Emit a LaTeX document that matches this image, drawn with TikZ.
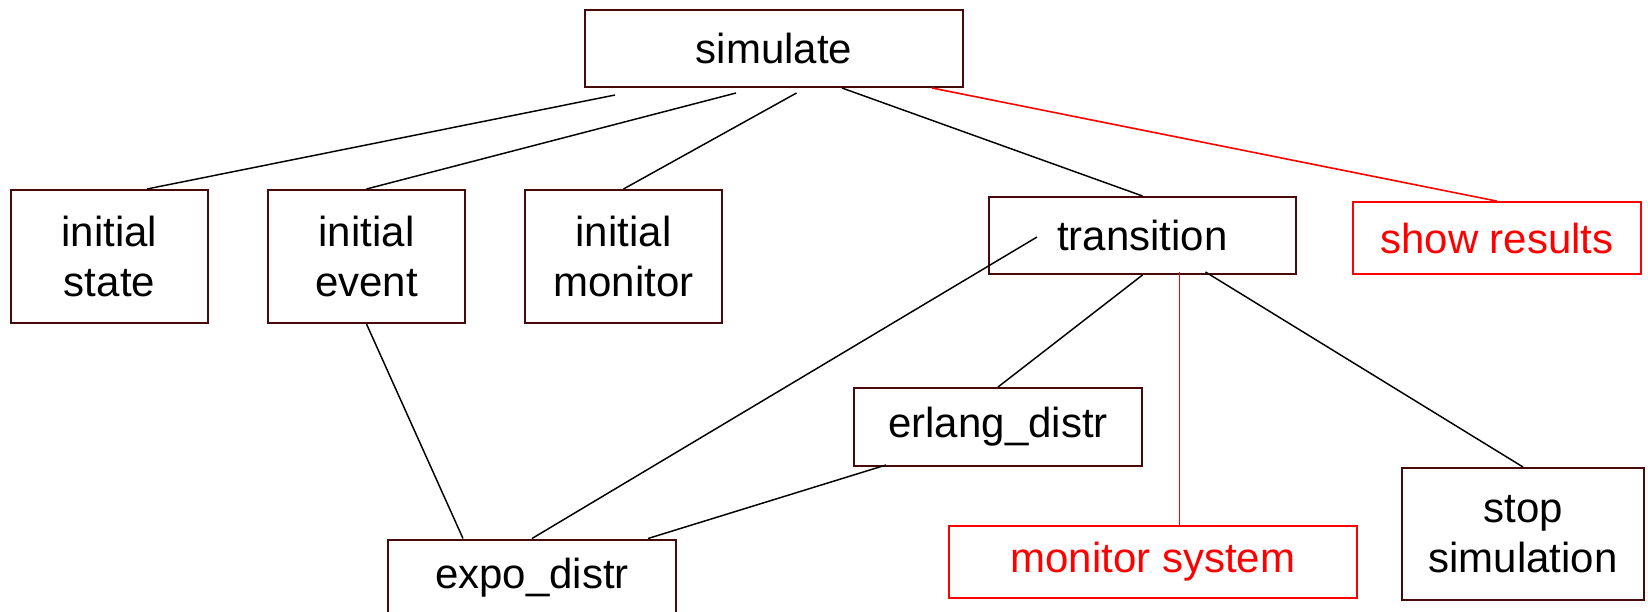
\documentclass[tikz,border=0pt]{standalone}
\usepackage{fontspec}
\setmainfont{Liberation Sans}
\usetikzlibrary{calc}
\definecolor{boxc}{RGB}{70,10,10}
\definecolor{hired}{RGB}{255,0,0}
\tikzset{
  box/.style={draw=boxc, line width=1.5pt, inner sep=0pt, align=center,
    font=\fontsize{31.5}{37.5}\selectfont, text=black},
  redbox/.style={box, draw=hired, text=hired, line width=1.3pt},
  link/.style={draw=black, line width=1.1pt},
  redlink/.style={draw=hired, line width=1.2pt}
}
\begin{document}
\begin{tikzpicture}[x=0.75pt, y=-0.75pt]
\useasboundingbox (0,0) rectangle (1648,611);
\fill[white] (0,0) rectangle (1648,611);
% nodes
\node[box, minimum width=283.5pt, minimum height=57.75pt] (sim) at (774,48.5) {simulate};
\node[box, minimum width=147.75pt, minimum height=99.75pt] (is) at (109.5,256.5) {initial\\state};
\node[box, minimum width=147.75pt, minimum height=99.75pt] (ie) at (366.5,256.5) {initial\\event};
\node[box, minimum width=147.75pt, minimum height=99.75pt] (im) at (623.5,256.5) {initial\\monitor};
\node[box, minimum width=230.25pt, minimum height=57.75pt] (tr) at (1142.5,235.5) {transition};
\node[redbox, minimum width=216pt, minimum height=54pt] (sr) at (1497,238) {show results};
\node[box, minimum width=216pt, minimum height=58.5pt] (er) at (998,427) {erlang\_distr};
\node[box, minimum width=216pt, minimum height=57.75pt] (ex) at (532,578) {expo\_distr};
\node[redbox, minimum width=306pt, minimum height=54pt] (ms) at (1153,562) {monitor system};
\node[box, minimum width=181.5pt, minimum height=99pt] (ss) at (1523,534) {stop\\simulation};
% connector end points
\coordinate (trred) at ($(tr.south)+(37,-3)$);
\coordinate (msred) at ($(ms.north)+(26.5,0)$);
% connectors from simulate
\draw[link] ($(sim.south west)+(31,7)$) -- ($(is.north west)+(137,0)$);
\draw[link] ($(sim.south west)+(152,5)$) -- (ie.north);
\draw[link] ($(sim.south west)+(212.5,5)$) -- (im.north);
\draw[link] ($(sim.south west)+(258,0)$) -- (tr.north);
\draw[redlink] ($(sim.south west)+(348,0)$) -- (sr.north);
% lower connectors
\draw[link] (ie.south) -- ($(ex.north west)+(76,0)$);
\draw[link] ($(tr.west)+(49,1.5)$) -- (ex.north);
\draw[link] ($(er.south west)+(33,-2)$) -- ($(ex.north east)+(-29,0)$);
\draw[link] (tr.south) -- (er.north);
\draw[redlink] (trred) -- (msred);
\draw[link] ($(tr.south)+(63,-3)$) -- (ss.north);
\end{tikzpicture}
\end{document}
